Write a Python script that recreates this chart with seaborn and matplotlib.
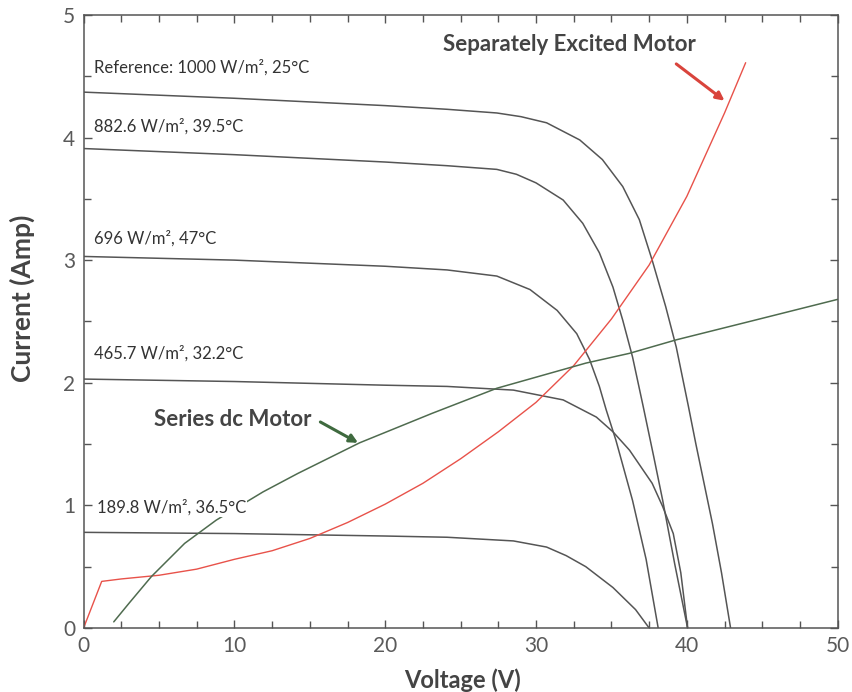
import matplotlib
matplotlib.use("Agg")
import matplotlib.pyplot as plt
from matplotlib.ticker import MultipleLocator
import seaborn as sns

# ---- data ----
ref_v = [0, 10, 20, 24.1, 27.4, 29.0, 30.7, 32.9, 34.4, 35.75, 36.85, 37.7, 38.6, 39.3, 40.1, 40.6, 41.7, 42.3, 42.9]
ref_i = [4.37, 4.32, 4.26, 4.23, 4.20, 4.17, 4.12, 3.98, 3.82, 3.60, 3.33, 3.00, 2.62, 2.29, 1.81, 1.50, 0.85, 0.45, 0.0]

c882_v = [0, 10, 20, 24.1, 27.4, 28.7, 30.0, 31.8, 33.1, 34.2, 35.1, 35.75, 36.4, 37.1, 37.8, 38.4, 39.2, 40.05]
c882_i = [3.91, 3.86, 3.80, 3.77, 3.74, 3.70, 3.63, 3.49, 3.30, 3.06, 2.78, 2.51, 2.21, 1.81, 1.40, 1.04, 0.52, 0.0]

c696_v = [0, 10, 20, 24.1, 27.4, 29.6, 31.4, 32.7, 33.55, 34.2, 34.65, 35.3, 36.4, 37.3, 38.1]
c696_i = [3.03, 3.00, 2.95, 2.92, 2.87, 2.76, 2.59, 2.40, 2.19, 1.97, 1.78, 1.53, 1.04, 0.56, 0.0]

c465_v = [0, 10, 20, 24.1, 28.5, 31.8, 34.0, 35.1, 36.2, 37.7, 38.4, 39.1, 39.6, 40.05]
c465_i = [2.03, 2.01, 1.98, 1.97, 1.94, 1.86, 1.72, 1.60, 1.45, 1.18, 0.99, 0.77, 0.45, 0.0]

c189_v = [0, 10, 20, 24.1, 28.5, 30.7, 32.0, 33.3, 35.1, 36.6, 37.5]
c189_i = [0.78, 0.77, 0.75, 0.74, 0.71, 0.66, 0.59, 0.50, 0.33, 0.15, 0.0]

sep_v = [0, 1.2, 2.5, 5, 7.5, 10, 12.5, 15, 17.5, 20, 22.5, 25, 27.5, 30, 32.5, 35, 37.5, 40, 42.5, 43.9]
sep_i = [0, 0.38, 0.40, 0.43, 0.48, 0.56, 0.63, 0.73, 0.86, 1.01, 1.18, 1.38, 1.60, 1.84, 2.14, 2.52, 2.96, 3.52, 4.20, 4.61]

ser_v = [2.0, 3.0, 4.5, 6.7, 8.8, 11.9, 14.2, 18.3, 23.1, 27.4, 33.3, 36.2, 39.3, 44.5, 50.0]
ser_i = [0.05, 0.20, 0.42, 0.69, 0.88, 1.11, 1.26, 1.51, 1.75, 1.955, 2.16, 2.24, 2.35, 2.51, 2.68]

curve_labels = ["Reference: 1000 W/m², 25°C", "882.6 W/m², 39.5°C", "696 W/m², 47°C",
                "465.7 W/m², 32.2°C", "189.8 W/m², 36.5°C"]
label_pos = [(0.72, 4.57), (0.72, 4.09), (0.72, 3.18), (0.72, 2.24), (0.86, 0.98)]

# ---- style ----
sns.set_style("ticks")
plt.rcParams['font.family'] = ['Lato', 'DejaVu Sans']

fig = plt.figure(figsize=(8.53, 6.92), dpi=100)
ax = fig.add_axes([0.098, 0.0925, 0.884, 0.886])

gray = "#555555"
iv = [(ref_v, ref_i), (c882_v, c882_i), (c696_v, c696_i), (c465_v, c465_i), (c189_v, c189_i)]
for v, i in iv:
    sns.lineplot(x=v, y=i, ax=ax, color=gray, lw=1.1, estimator=None, sort=False)

sns.lineplot(x=sep_v, y=sep_i, ax=ax, color="#e8524a", lw=1.0, estimator=None, sort=False)
sns.lineplot(x=ser_v, y=ser_i, ax=ax, color="#4f6b4f", lw=1.1, estimator=None, sort=False)

for txt, (x, y) in zip(curve_labels, label_pos):
    ax.text(x, y, txt, fontsize=12, color="#333333", va='center', ha='left', zorder=5,
            bbox=dict(facecolor='white', edgecolor='none', pad=1.0))

ax.text(32.2, 4.755, "Separately Excited Motor", fontsize=16, fontweight='bold',
        color="#444444", ha='center', va='center')
ax.annotate("", xy=(42.5, 4.30), xytext=(39.3, 4.60),
            arrowprops=dict(arrowstyle='-|>', color="#d9443c", lw=2.2, mutation_scale=12,
                            shrinkA=0, shrinkB=0))
ax.text(9.9, 1.70, "Series dc Motor", fontsize=16, fontweight='bold',
        color="#444444", ha='center', va='center')
ax.annotate("", xy=(18.2, 1.51), xytext=(15.7, 1.68),
            arrowprops=dict(arrowstyle='-|>', color="#3f6a3f", lw=2.2, mutation_scale=12,
                            shrinkA=0, shrinkB=0))

ax.set_xlim(0, 50)
ax.set_ylim(0, 5)
ax.xaxis.set_major_locator(MultipleLocator(10))
ax.xaxis.set_minor_locator(MultipleLocator(2.5))
ax.yaxis.set_major_locator(MultipleLocator(1))
ax.yaxis.set_minor_locator(MultipleLocator(0.5))
ax.tick_params(which='both', direction='in', top=True, right=True, color=gray, width=1)
ax.tick_params(which='major', length=6, labelsize=15, labelcolor="#5a5a5a", pad=6)
ax.tick_params(which='minor', length=5)
for s in ax.spines.values():
    s.set_color(gray)
    s.set_linewidth(1.1)

ax.set_xlabel("Voltage (V)", fontsize=17, fontweight='bold', color="#444444")
ax.set_ylabel("Current (Amp)", fontsize=19, fontweight='bold', color="#444444")
ax.xaxis.set_label_coords(0.502, -0.066)
ax.yaxis.set_label_coords(-0.065, 0.537)

fig.savefig("out.png", dpi=100)
